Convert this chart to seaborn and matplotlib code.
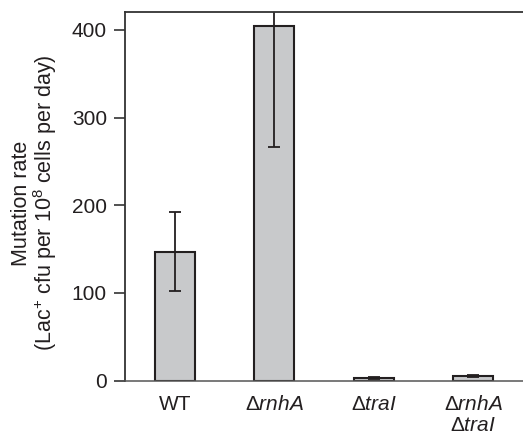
import numpy as np
import pandas as pd
import matplotlib
matplotlib.use('Agg')
import matplotlib.pyplot as plt
import seaborn as sns

# %% Data

strains = ['WT', r'$\mathrm{\Delta}\mathit{rnhA}$', r'$\mathrm{\Delta}\mathit{traI}$',
           '$\\mathrm{\\Delta}\\mathit{rnhA}$\n$\\mathrm{\\Delta}\\mathit{traI}$']
rates = [147, 404, 3.4, 5.2]
errors = [45, 138, 1.0, 1.0]
yticks = [0, 100, 200, 300, 400]

df = pd.DataFrame({'strain': strains, 'rate': rates, 'err': errors})

# %% Style

sns.set_style('ticks')
plt.rcParams['font.family'] = ['Liberation Sans', 'DejaVu Sans']
plt.rcParams['mathtext.fontset'] = 'custom'
plt.rcParams['mathtext.rm'] = 'Liberation Sans'
plt.rcParams['mathtext.it'] = 'Liberation Sans:italic'
plt.rcParams['mathtext.bf'] = 'Liberation Sans:bold'

edge = '#231f20'

fig = plt.figure(figsize=(5.23, 4.37), dpi=100)
ax = fig.add_axes([0.239, 0.1288, 0.761, 0.8431])

sns.barplot(data=df, x='strain', y='rate', color='#c8c9cb', width=0.4,
            edgecolor=edge, linewidth=1.5, saturation=1, errorbar=None, ax=ax)

# Error bars
ax.errorbar(x=np.arange(len(rates)), y=df['rate'], yerr=df['err'], fmt='none',
            ecolor=edge, elinewidth=1.3, capsize=4.3, capthick=1.3)

ax.set_xlim(-0.5, 3.5)
ax.set_ylim(0, 420)
ax.set_yticks(yticks)
ax.set_xlabel('')
ax.set_ylabel('Mutation rate\n(Lac$^{+}$ cfu per 10$^{8}$ cells per day)',
              fontsize=15.5, linespacing=0.95, color=edge)
ax.yaxis.set_label_coords(-0.165, 0.482)

ax.tick_params(axis='y', length=8, width=1.2, labelsize=15, color='#333333',
               labelcolor=edge, pad=5)
ax.tick_params(axis='x', length=0, labelsize=15, labelcolor=edge, pad=10)
for lab in ax.get_xticklabels():
    lab.set_linespacing(1.15)

ax.spines['right'].set_visible(False)
for s in ['left', 'top']:
    ax.spines[s].set_linewidth(1.3)
    ax.spines[s].set_color('#333333')
ax.spines['bottom'].set_linewidth(1.1)
ax.spines['bottom'].set_color('#555555')

fig.savefig('out.png', dpi=100)
